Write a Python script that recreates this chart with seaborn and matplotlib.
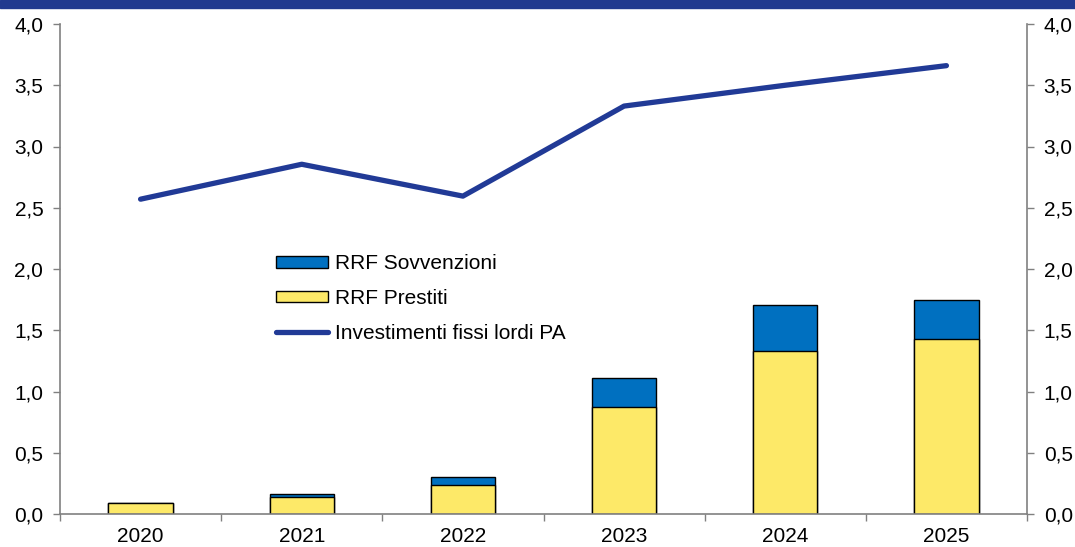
import numpy as np
import matplotlib
matplotlib.use("Agg")
import matplotlib.pyplot as plt
import seaborn as sns
from matplotlib.patches import Patch, Rectangle
from matplotlib.lines import Line2D
from matplotlib.ticker import FuncFormatter, FixedLocator

# --- Data ---
years = ["2020", "2021", "2022", "2023", "2024", "2025"]
prestiti = [0.09, 0.14, 0.24, 0.875, 1.33, 1.43]
sovvenzioni = [0.0, 0.025, 0.06, 0.235, 0.38, 0.32]
investimenti = [2.57, 2.855, 2.595, 3.33, 3.50, 3.66]

totale = [p + s for p, s in zip(prestiti, sovvenzioni)]

yellow = "#FDE968"
blue_bar = "#0070C0"
blue_line = "#213A96"
grey = "#808080"

sns.set_style("white")
plt.rcParams["font.family"] = ["Liberation Sans", "DejaVu Sans"]
plt.rcParams["text.color"] = "black"

fig = plt.figure(figsize=(10.75, 5.47), dpi=100)
ax = fig.add_axes([60 / 1075, 1 - 514 / 547, (1027 - 60) / 1075, (514 - 24) / 547])

# stacked bars: total (blue) then loans (yellow) on top of it
sns.barplot(x=years, y=totale, color=blue_bar, edgecolor="black", linewidth=1,
            width=0.4, saturation=1, ax=ax)
sns.barplot(x=years, y=prestiti, color=yellow, edgecolor="black", linewidth=1,
            width=0.4, saturation=1, ax=ax)

# line
sns.lineplot(x=np.arange(len(years)), y=investimenti, color=blue_line, linewidth=3.8,
             solid_capstyle="round", ax=ax)

# axes
ax.set_xlim(-0.5, len(years) - 0.5)
ax.set_ylim(0, 4)
ax.set_yticks(np.arange(0, 4.01, 0.5))
ax.yaxis.set_major_formatter(FuncFormatter(lambda v, p: f"{v:.1f}".replace(".", ",")))
ax.tick_params(axis="y", which="both", left=True, right=True, labelleft=True, labelright=True,
               direction="out", length=5, width=1, color=grey, labelsize=15,
               labelcolor="black", pad=7)

ax.xaxis.set_major_locator(FixedLocator(np.arange(-0.5, len(years), 1.0)))
ax.xaxis.set_minor_locator(FixedLocator(np.arange(len(years))))
ax.set_xticklabels([], minor=False)
ax.set_xticklabels(years, minor=True)
ax.tick_params(axis="x", which="major", bottom=True, direction="out", length=5, width=1, color=grey)
ax.tick_params(axis="x", which="minor", bottom=True, length=0, labelsize=15,
               labelcolor="black", pad=9)
ax.set_xlabel("")

for side in ["left", "right", "bottom"]:
    ax.spines[side].set_visible(True)
    ax.spines[side].set_color(grey)
    ax.spines[side].set_linewidth(1.2)
ax.spines["top"].set_visible(False)
ax.grid(False)

# legend
handles = [
    Patch(facecolor=blue_bar, edgecolor="black", linewidth=1),
    Patch(facecolor=yellow, edgecolor="black", linewidth=1),
    Line2D([], [], color=blue_line, linewidth=3.8, solid_capstyle="round"),
]
labels = ["RRF Sovvenzioni", "RRF Prestiti", "Investimenti fissi lordi PA"]
ax.legend(handles, labels, frameon=False, fontsize=15, loc="upper left",
          bbox_to_anchor=((268 - 60) / 967, (514 - 246) / 490),
          handlelength=2.5, handleheight=0.45, handletextpad=0.3, labelspacing=0.75,
          borderaxespad=0)

# top band
fig.add_artist(Rectangle((0, 1 - 8 / 547), 1, 8 / 547, transform=fig.transFigure,
                         color="#213A8F", zorder=10))

fig.savefig("out.png", dpi=100)
